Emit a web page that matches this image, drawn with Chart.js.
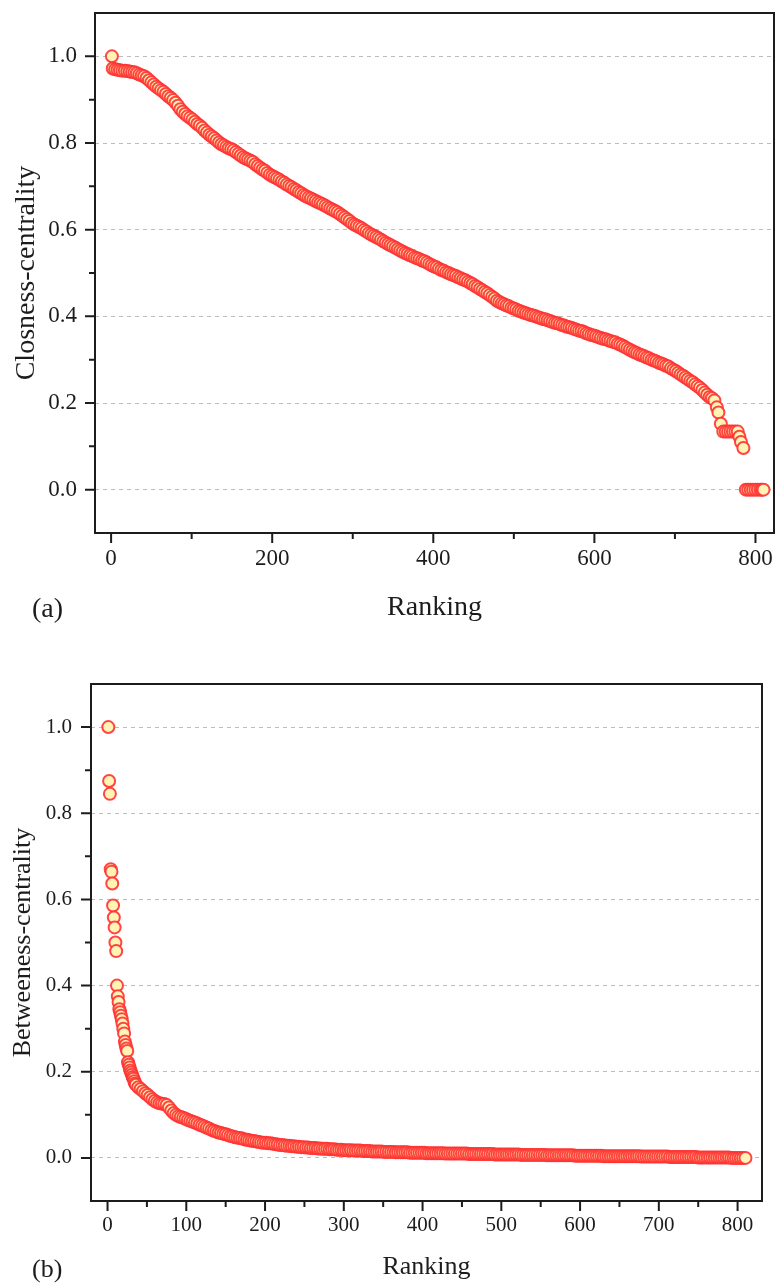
<!DOCTYPE html>
<html>
<head>
<meta charset="utf-8">
<script src="https://cdn.jsdelivr.net/npm/chart.js@4.4.1/dist/chart.umd.min.js"></script>
<style>
  html, body { margin: 0; padding: 0; background: #fff; width: 782px; height: 1283px; overflow: hidden; }
  canvas { position: absolute; left: 0; }
  #closeness { top: 0; }
  #betweenness { top: 630px; }
</style>
</head>
<body>
<canvas id="closeness" width="782" height="640"></canvas>
<canvas id="betweenness" width="782" height="653"></canvas>
<script>
// (a) closeness centrality, ranked
const closenessRank = [
  1,
  2, 5, 8, 11, 14, 17, 20, 23, 26, 29,
  32, 35, 38, 41, 44, 47, 50, 53, 56, 59,
  62, 65, 68, 71, 74, 77, 80, 83, 86, 89,
  92, 95, 98, 101, 104, 107, 110, 113, 116, 119,
  122, 125, 128, 131, 134, 137, 140, 143, 146, 149,
  152, 155, 158, 161, 164, 167, 170, 173, 176, 179,
  182, 185, 188, 191, 194, 197, 200, 203, 206, 209,
  212, 215, 218, 221, 224, 227, 230, 233, 236, 239,
  242, 245, 248, 251, 254, 257, 260, 263, 266, 269,
  272, 275, 278, 281, 284, 287, 290, 293, 296, 299,
  302, 305, 308, 311, 314, 317, 320, 323, 326, 329,
  332, 335, 338, 341, 344, 347, 350, 353, 356, 359,
  362, 365, 368, 371, 374, 377, 380, 383, 386, 389,
  392, 395, 398, 401, 404, 407, 410, 413, 416, 419,
  422, 425, 428, 431, 434, 437, 440, 443, 446, 449,
  452, 455, 458, 461, 464, 467, 470, 473, 476, 479,
  482, 485, 488, 491, 494, 497, 500, 503, 506, 509,
  512, 515, 518, 521, 524, 527, 530, 533, 536, 539,
  542, 545, 548, 551, 554, 557, 560, 563, 566, 569,
  572, 575, 578, 581, 584, 587, 590, 593, 596, 599,
  602, 605, 608, 611, 614, 617, 620, 623, 626, 629,
  632, 635, 638, 641, 644, 647, 650, 653, 656, 659,
  662, 665, 668, 671, 674, 677, 680, 683, 686, 689,
  692, 695, 698, 701, 704, 707, 710, 713, 716, 719,
  722, 725, 728, 731, 734, 737, 740, 743,
  746, 749, 752, 754, 757, 760, 763, 766, 769, 772,
  775, 778, 780, 782, 785, 788, 791, 794, 797, 800,
  803, 806, 808, 810
];
const closenessValue = [
  1.000,
  0.972, 0.970, 0.969, 0.968, 0.967, 0.967, 0.966, 0.965, 0.964, 0.963,
  0.961, 0.958, 0.956, 0.954, 0.950, 0.945, 0.940, 0.935, 0.930, 0.926,
  0.922, 0.918, 0.913, 0.908, 0.904, 0.899, 0.893, 0.886, 0.878, 0.872,
  0.867, 0.862, 0.858, 0.854, 0.849, 0.844, 0.840, 0.835, 0.829, 0.824,
  0.819, 0.815, 0.811, 0.806, 0.801, 0.797, 0.794, 0.791, 0.788, 0.786,
  0.783, 0.779, 0.775, 0.771, 0.767, 0.764, 0.762, 0.759, 0.756, 0.751,
  0.747, 0.743, 0.739, 0.736, 0.731, 0.727, 0.724, 0.721, 0.718, 0.715,
  0.711, 0.708, 0.704, 0.701, 0.698, 0.694, 0.691, 0.687, 0.684, 0.680,
  0.677, 0.674, 0.672, 0.669, 0.666, 0.663, 0.661, 0.658, 0.655, 0.652,
  0.649, 0.646, 0.643, 0.640, 0.636, 0.632, 0.628, 0.624, 0.620, 0.615,
  0.612, 0.609, 0.606, 0.603, 0.599, 0.596, 0.592, 0.589, 0.586, 0.583,
  0.580, 0.577, 0.573, 0.570, 0.567, 0.564, 0.561, 0.558, 0.555, 0.552,
  0.549, 0.546, 0.544, 0.541, 0.539, 0.536, 0.534, 0.532, 0.529, 0.527,
  0.524, 0.521, 0.518, 0.515, 0.513, 0.510, 0.507, 0.505, 0.502, 0.500,
  0.497, 0.495, 0.493, 0.490, 0.488, 0.485, 0.483, 0.480, 0.477, 0.474,
  0.470, 0.467, 0.463, 0.460, 0.456, 0.453, 0.449, 0.445, 0.441, 0.436,
  0.433, 0.430, 0.428, 0.425, 0.423, 0.420, 0.418, 0.416, 0.413, 0.411,
  0.409, 0.407, 0.405, 0.403, 0.402, 0.400, 0.398, 0.396, 0.394, 0.393,
  0.391, 0.389, 0.387, 0.385, 0.384, 0.382, 0.380, 0.378, 0.376, 0.375,
  0.373, 0.371, 0.369, 0.367, 0.366, 0.364, 0.361, 0.359, 0.357, 0.356,
  0.354, 0.352, 0.350, 0.348, 0.347, 0.345, 0.343, 0.341, 0.340, 0.337,
  0.335, 0.332, 0.329, 0.326, 0.323, 0.320, 0.317, 0.315, 0.312, 0.310,
  0.308, 0.305, 0.303, 0.300, 0.298, 0.296, 0.293, 0.291, 0.289, 0.286,
  0.284, 0.280, 0.277, 0.274, 0.270, 0.266, 0.263, 0.259, 0.255, 0.251,
  0.248, 0.243, 0.239, 0.235, 0.230, 0.224, 0.219, 0.214,
  0.211, 0.206, 0.190, 0.178, 0.152, 0.134, 0.134, 0.134, 0.134, 0.134,
  0.134, 0.134, 0.122, 0.110, 0.096, 0.000, 0.000, 0.000, 0.000, 0.000,
  0.000, 0.000, 0.000, 0.000
];

// (b) betweenness centrality, ranked
const betweenRank = [
  1, 2, 3, 4, 5, 6, 7, 8, 9, 10,
  11, 12, 13, 14, 15, 16, 17, 18, 19, 20,
  21, 22, 23, 24, 25, 26, 27, 28, 29, 30,
  31, 32, 33, 34, 35,
  36, 39, 42, 45, 48, 51, 54, 57, 60, 63,
  66, 69, 72, 75, 78, 81, 84, 87, 90, 93,
  96, 99, 102, 105, 108, 111, 114, 117, 120, 123,
  126, 129, 132, 135, 138, 141, 144, 147, 150, 153,
  156, 159, 162, 165, 168, 171, 174, 177, 180, 183,
  186, 189, 192, 195, 198, 201, 204, 207, 210, 213,
  216, 219, 222, 225, 228, 231, 234, 237, 240, 243,
  246, 249, 252, 255, 258, 261, 264, 267, 270, 273,
  276, 279, 282, 285, 288, 291, 294, 297, 300, 303,
  306, 309, 312, 315, 318, 321, 324, 327, 330, 333,
  336, 339, 342, 345, 348, 351, 354, 357, 360, 363,
  366, 369, 372, 375, 378, 381, 384, 387, 390, 393,
  396, 399, 402, 405, 408, 411, 414, 417, 420, 423,
  426, 429, 432, 435, 438, 441, 444, 447, 450, 453,
  456, 459, 462, 465, 468, 471, 474, 477, 480, 483,
  486, 489, 492, 495, 498, 501, 504, 507, 510, 513,
  516, 519, 522, 525, 528, 531, 534, 537, 540, 543,
  546, 549, 552, 555, 558, 561, 564, 567, 570, 573,
  576, 579, 582, 585, 588, 591, 594, 597, 600, 603,
  606, 609, 612, 615, 618, 621, 624, 627, 630, 633,
  636, 639, 642, 645, 648, 651, 654, 657, 660, 663,
  666, 669, 672, 675, 678, 681, 684, 687, 690, 693,
  696, 699, 702, 705, 708, 711, 714, 717, 720, 723,
  726, 729, 732, 735, 738, 741, 744, 747, 750, 753,
  756, 759, 762, 765, 768, 771, 774, 777, 780, 783,
  786, 789, 792, 795, 798, 801, 804, 807, 810
];
const betweenValue = [
  1.000, 0.875, 0.845, 0.670, 0.664, 0.637, 0.586, 0.558, 0.535, 0.500,
  0.480, 0.400, 0.375, 0.362, 0.345, 0.338, 0.330, 0.322, 0.312, 0.300,
  0.289, 0.270, 0.262, 0.254, 0.248, 0.222, 0.216, 0.210, 0.203, 0.198,
  0.193, 0.188, 0.184, 0.178, 0.173,
  0.170, 0.164, 0.160, 0.155, 0.150, 0.146, 0.141, 0.136, 0.132, 0.129,
  0.127, 0.126, 0.125, 0.123, 0.117, 0.110, 0.104, 0.100, 0.097, 0.095,
  0.093, 0.091, 0.088, 0.086, 0.084, 0.082, 0.080, 0.077, 0.075, 0.073,
  0.070, 0.068, 0.065, 0.063, 0.061, 0.059, 0.058, 0.056, 0.055, 0.053,
  0.051, 0.050, 0.048, 0.047, 0.046, 0.045, 0.043, 0.042, 0.041, 0.040,
  0.039, 0.038, 0.037, 0.036, 0.035, 0.035, 0.034, 0.034, 0.033, 0.032,
  0.031, 0.030, 0.030, 0.029, 0.028, 0.028, 0.027, 0.027, 0.026, 0.026,
  0.025, 0.025, 0.024, 0.024, 0.023, 0.023, 0.023, 0.022, 0.022, 0.021,
  0.021, 0.021, 0.020, 0.020, 0.020, 0.019, 0.019, 0.019, 0.018, 0.018,
  0.018, 0.018, 0.017, 0.017, 0.017, 0.017, 0.016, 0.016, 0.016, 0.016,
  0.015, 0.015, 0.015, 0.015, 0.015, 0.014, 0.014, 0.014, 0.014, 0.014,
  0.013, 0.013, 0.013, 0.013, 0.013, 0.013, 0.012, 0.012, 0.012, 0.012,
  0.012, 0.012, 0.012, 0.011, 0.011, 0.011, 0.011, 0.011, 0.011, 0.011,
  0.011, 0.010, 0.010, 0.010, 0.010, 0.010, 0.010, 0.010, 0.010, 0.010,
  0.010, 0.009, 0.009, 0.009, 0.009, 0.009, 0.009, 0.009, 0.009, 0.009,
  0.009, 0.009, 0.008, 0.008, 0.008, 0.008, 0.008, 0.008, 0.008, 0.008,
  0.008, 0.008, 0.008, 0.007, 0.007, 0.007, 0.007, 0.007, 0.007, 0.007,
  0.007, 0.007, 0.007, 0.007, 0.006, 0.006, 0.006, 0.006, 0.006, 0.006,
  0.006, 0.006, 0.006, 0.006, 0.006, 0.006, 0.005, 0.005, 0.005, 0.005,
  0.005, 0.005, 0.005, 0.005, 0.005, 0.005, 0.005, 0.005, 0.004, 0.004,
  0.004, 0.004, 0.004, 0.004, 0.004, 0.004, 0.004, 0.004, 0.004, 0.004,
  0.004, 0.004, 0.004, 0.004, 0.003, 0.003, 0.003, 0.003, 0.003, 0.003,
  0.003, 0.003, 0.003, 0.003, 0.003, 0.003, 0.002, 0.002, 0.002, 0.002,
  0.002, 0.002, 0.002, 0.002, 0.002, 0.002, 0.002, 0.002, 0.001, 0.001,
  0.001, 0.001, 0.001, 0.001, 0.001, 0.001, 0.001, 0.001, 0.001, 0.001,
  0.001, 0.001, 0.000, 0.000, 0.000, 0.000, 0.000, 0.000, 0.000
];

// ticks
const yMajor = [0, 0.2, 0.4, 0.6, 0.8, 1.0];
const yMinor = [0.1, 0.3, 0.5, 0.7, 0.9];
const closenessXMajor = [0, 200, 400, 600, 800];
const closenessXMinor = [100, 300, 500, 700];
const betweenXMajor = [0, 100, 200, 300, 400, 500, 600, 700, 800];
const betweenXMinor = [50, 150, 250, 350, 450, 550, 650, 750];

const SERIF = '"Liberation Serif", "Times New Roman", serif';
const INK = '#1c1c1c';

// box round the plot, minor/major tick marks and the (a)/(b) tag
const frameAndTicks = {
    id: 'frameAndTicks',
    afterDraw(chart, args, opts) {
        const { ctx, chartArea: a, scales: { x, y } } = chart;
        ctx.save();
        ctx.strokeStyle = INK;
        ctx.lineWidth = 2;
        ctx.beginPath();
        opts.xMajor.forEach(v => { const p = x.getPixelForValue(v); ctx.moveTo(p, a.bottom); ctx.lineTo(p, a.bottom + 10); });
        opts.xMinor.forEach(v => { const p = x.getPixelForValue(v); ctx.moveTo(p, a.bottom); ctx.lineTo(p, a.bottom + 6); });
        opts.yMajor.forEach(v => { const p = y.getPixelForValue(v); ctx.moveTo(a.left, p); ctx.lineTo(a.left - 10, p); });
        opts.yMinor.forEach(v => { const p = y.getPixelForValue(v); ctx.moveTo(a.left, p); ctx.lineTo(a.left - 6, p); });
        ctx.stroke();
        ctx.strokeRect(a.left, a.top, a.right - a.left, a.bottom - a.top);

        ctx.fillStyle = INK;
        ctx.font = opts.tagSize + 'px ' + SERIF;
        ctx.textBaseline = 'alphabetic';
        ctx.textAlign = 'left';
        ctx.fillText(opts.tag, opts.tagX, opts.tagY);
        ctx.restore();
    }
};

function makeChart(canvasId, cfg) {
    return new Chart(document.getElementById(canvasId), {
        type: 'scatter',
        data: {
            datasets: [{
                data: cfg.ranks.map((r, i) => ({ x: r, y: cfg.values[i] })),
                pointRadius: 6,
                pointHoverRadius: 6,
                pointBackgroundColor: '#fff3b5',
                pointBorderColor: 'rgba(255, 50, 50, 0.9)',
                pointBorderWidth: 2
            }]
        },
        options: {
            responsive: false,
            animation: false,
            events: [],
            layout: { padding: cfg.padding },
            plugins: {
                legend: { display: false },
                tooltip: { enabled: false },
                frameAndTicks: {
                    xMajor: cfg.xMajor, xMinor: cfg.xMinor,
                    yMajor: yMajor, yMinor: yMinor,
                    tag: cfg.tag, tagX: 32, tagY: cfg.tagY, tagSize: cfg.titleSize
                }
            },
            scales: {
                x: {
                    type: 'linear',
                    min: cfg.xMin,
                    max: cfg.xMax,
                    afterBuildTicks: axis => { axis.ticks = cfg.xMajor.map(v => ({ value: v })); },
                    afterFit: axis => {
                        axis.height = cfg.xAxisHeight;
                        axis.paddingLeft = 0;
                        axis.paddingRight = 0;
                    },
                    grid: { display: false, drawTicks: false },
                    border: { display: false },
                    ticks: {
                        padding: 12,
                        color: INK,
                        font: { family: SERIF, size: cfg.tickSize },
                        callback: v => String(v)
                    },
                    title: {
                        display: true,
                        text: 'Ranking',
                        color: INK,
                        font: { family: SERIF, size: cfg.titleSize },
                        padding: 0
                    }
                },
                y: {
                    min: -0.1,
                    max: 1.1,
                    afterBuildTicks: axis => { axis.ticks = yMajor.map(v => ({ value: v })); },
                    afterFit: axis => {
                        // labels sit well inside the range, so no extra room at the ends
                        axis.width = cfg.yAxisWidth;
                        axis.paddingTop = 0;
                        axis.paddingBottom = 0;
                    },
                    grid: { color: '#bdbdbd', lineWidth: 1, drawTicks: false },
                    border: { display: false, dash: [4, 4] },
                    ticks: {
                        padding: cfg.yPad,
                        color: INK,
                        font: { family: SERIF, size: cfg.tickSize },
                        callback: v => v.toFixed(1)
                    },
                    title: {
                        display: true,
                        text: cfg.yTitle,
                        color: INK,
                        font: { family: SERIF, size: cfg.titleSize },
                        padding: { top: cfg.yTitlePad, bottom: 0 }
                    }
                }
            }
        },
        plugins: [frameAndTicks]
    });
}

makeChart('closeness', {
    ranks: closenessRank,
    values: closenessValue,
    xMajor: closenessXMajor,
    xMinor: closenessXMinor,
    xMin: -20,
    xMax: 823,
    yTitle: 'Closness-centrality',
    tag: '(a)',
    tagY: 617,
    padding: { left: 0, top: 13, right: 4, bottom: 16 },
    xAxisHeight: 91,
    yAxisWidth: 95,
    yPad: 18,
    yTitlePad: 10,
    tickSize: 23,
    titleSize: 28
});

makeChart('betweenness', {
    ranks: betweenRank,
    values: betweenValue,
    xMajor: betweenXMajor,
    xMinor: betweenXMinor,
    xMin: -21,
    xMax: 831,
    yTitle: 'Betweeness-centrality',
    tag: '(b)',
    tagY: 647,
    padding: { left: 0, top: 54, right: 20, bottom: 0 },
    xAxisHeight: 82,
    yAxisWidth: 91,
    yPad: 19,
    yTitlePad: 8,
    tickSize: 21,
    titleSize: 26
});
</script>
</body>
</html>
